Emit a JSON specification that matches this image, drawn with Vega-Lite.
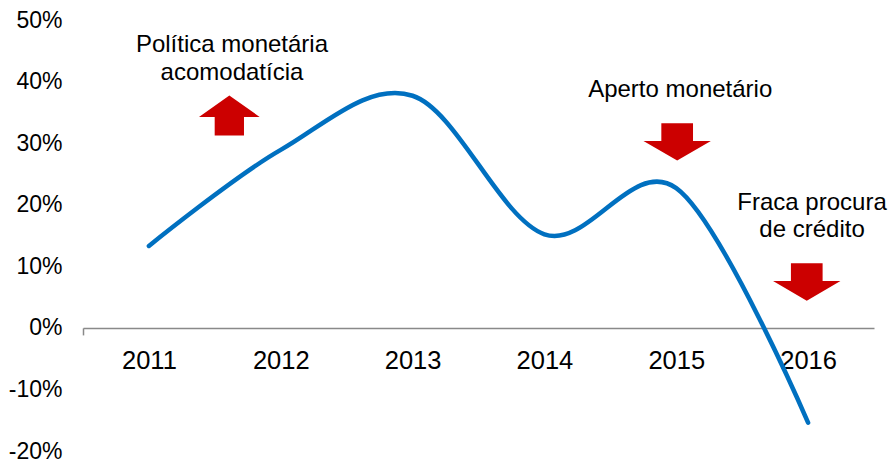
{
  "$schema": "https://vega.github.io/schema/vega-lite/v6.json",
  "width": 791,
  "height": 431,
  "autosize": {"type": "none"},
  "padding": {"left": 83, "top": 20, "right": 17, "bottom": 10},
  "background": "white",
  "config": {"view": {"stroke": null}, "font": "Liberation Sans"},
  "datasets": {
    "series": [
      {"year": 2011, "value": 13.3},
      {"year": 2012, "value": 28.9},
      {"year": 2013, "value": 37.7},
      {"year": 2014, "value": 15.2},
      {"year": 2015, "value": 22.7},
      {"year": 2016, "value": -15.4}
    ],
    "arrows": [
      {"year": 2011.61, "value": 34.5, "dir": "up"},
      {"year": 2015.007, "value": 30.2, "dir": "down"},
      {"year": 2015.99, "value": 7.46, "dir": "down"}
    ],
    "notes": [
      {"year": 2011.63, "value": 44.76, "text": "Política monetária"},
      {"year": 2011.63, "value": 40.26, "text": "acomodatícia"},
      {"year": 2015.03, "value": 37.45, "text": "Aperto monetário"},
      {"year": 2016.03, "value": 19.16, "text": "Fraca procura"},
      {"year": 2016.03, "value": 14.8, "text": "de crédito"}
    ]
  },
  "encoding": {
    "x": {
      "field": "year",
      "type": "quantitative",
      "scale": {"domain": [2010.5, 2016.5], "nice": false, "zero": false},
      "axis": {
        "title": null,
        "values": [2010.5, 2011, 2012, 2013, 2014, 2015, 2016],
        "labelExpr": "datum.value == 2010.5 ? '' : datum.value",
        "offset": -123.1,
        "domainColor": "#898989",
        "domainWidth": 1.5,
        "tickColor": "#898989",
        "tickWidth": 1.5,
        "tickSize": 7,
        "tickOpacity": {"condition": {"test": "datum.value == 2010.5", "value": 1}, "value": 0},
        "labelFontSize": 25.5,
        "labelColor": "black",
        "labelBaseline": "alphabetic",
        "labelPadding": 33.4,
        "labelFlush": false,
        "labelOverlap": false,
        "grid": false,
        "zindex": 0
      }
    },
    "y": {
      "field": "value",
      "type": "quantitative",
      "scale": {"domain": [-20, 50], "nice": false},
      "axis": {
        "title": null,
        "values": [-20, -10, 0, 10, 20, 30, 40, 50],
        "labelExpr": "datum.value + '%'",
        "domain": false,
        "ticks": false,
        "grid": false,
        "labelPadding": 21,
        "labelFontSize": 23,
        "labelColor": "black",
        "labelBaseline": "middle"
      }
    }
  },
  "layer": [
    {
      "data": {"name": "series"},
      "mark": {"type": "line", "interpolate": "cardinal", "color": "#0070C0", "strokeWidth": 4.5, "strokeCap": "round"}
    },
    {
      "data": {"name": "arrows"},
      "transform": [{"filter": "datum.dir == 'up'"}],
      "mark": {
        "type": "point",
        "filled": true,
        "opacity": 1,
        "color": "#CC0000",
        "size": 3680,
        "shape": "M0,-0.66L1,0.05L0.483,0.05L0.483,0.66L-0.483,0.66L-0.483,0.05L-1,0.05Z"
      }
    },
    {
      "data": {"name": "arrows"},
      "transform": [{"filter": "datum.dir == 'down'"}],
      "mark": {
        "type": "point",
        "filled": true,
        "opacity": 1,
        "color": "#CC0000",
        "size": 4543,
        "shape": "M-0.47,-0.555L0.47,-0.555L0.47,-0.03L1,-0.03L0,0.555L-1,-0.03L-0.47,-0.03Z"
      }
    },
    {
      "data": {"name": "notes"},
      "mark": {"type": "text", "align": "center", "baseline": "alphabetic", "fontSize": 24, "color": "black"},
      "encoding": {"text": {"field": "text"}}
    }
  ]
}
